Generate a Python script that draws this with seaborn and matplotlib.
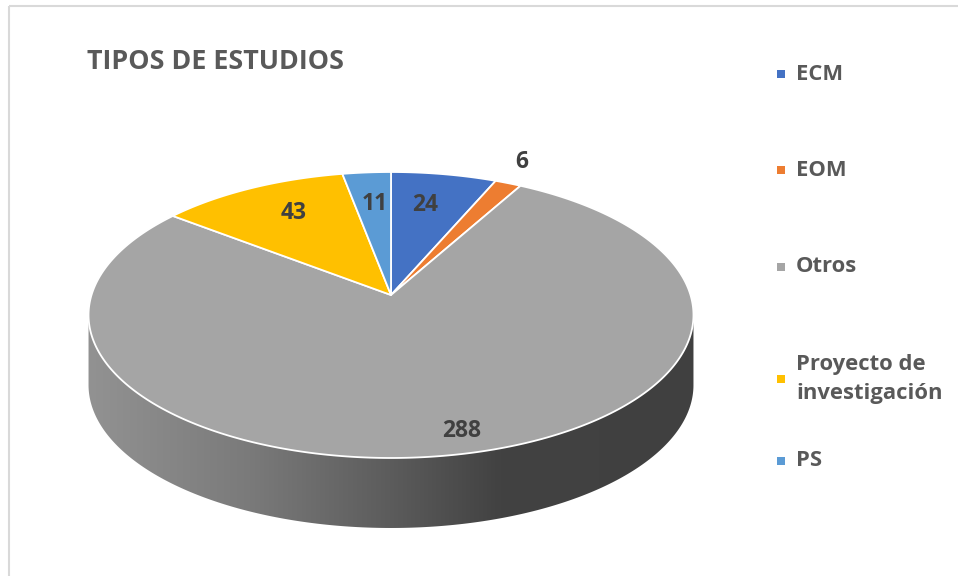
import numpy as np
import matplotlib
matplotlib.use("Agg")
import matplotlib.pyplot as plt
from matplotlib.patches import Polygon, Rectangle
import seaborn as sns

# ---- data ----
categories = ["ECM", "EOM", "Otros", "Proyecto de\ninvestigación", "PS"]
values = [24, 6, 288, 43, 11]
colors = ["#4472C4", "#ED7D31", "#A5A5A5", "#FFC000", "#5B9BD5"]
title = "TIPOS DE ESTUDIOS"

# ---- style / layout ----
sns.set_theme(style="white")
FONT = ["Open Sans", "DejaVu Sans"]
plt.rcParams["font.family"] = FONT

W, H = 958, 576
fig = plt.figure(figsize=(W / 100, H / 100), dpi=100)
ax = fig.add_axes([0, 0, 1, 1])
ax.set_xlim(0, W)
ax.set_ylim(H, 0)
ax.axis("off")

# perspective pie geometry (pixel space)
CX, CY = 391.0, 295.0   # pie centre (apex)
A, B = 299.5, 140.2     # horizontal / vertical scale
K = 0.1398              # perspective factor
DEPTH = 70.0            # wall thickness
label_r = [0.72, 1.2, 0.88, 0.73, 0.72]
label_dtheta = [-1.6, -1.4, -2.0, 2.5, 0.6]


def project(theta_deg, r=1.0):
    t = np.radians(theta_deg)
    u = r * np.sin(t)
    v = r * np.cos(t)
    w = 1 + K * v
    return CX + A * u / w, CY - B * v / w


# chart frame
ax.add_patch(Rectangle((9.5, 5.5), W, H, fill=False, edgecolor="#D9D9D9", lw=1.5, zorder=0))

# slice angles (clockwise from 12 o'clock)
vals = np.array(values, dtype=float)
bounds = np.concatenate([[0], np.cumsum(vals)]) / vals.sum() * 360.0

# front wall (3D side), only the front half is visible
kk = np.sqrt(1 - K ** 2)
th_r = np.degrees(np.arctan2(kk, -K))
th_l = 360 - th_r
th = np.linspace(th_r, th_l, 300)
tx, ty = project(th)
wall_pts = np.concatenate([np.column_stack([tx, ty]),
                           np.column_stack([tx[::-1], ty[::-1] + DEPTH])])
wall = Polygon(wall_pts, closed=True, facecolor="none", edgecolor="none", zorder=1)
ax.add_patch(wall)
gx = np.linspace(80, 700, 400)
gray = np.interp(gx, [89, 250, 390, 500, 700], [0x92, 0x7A, 0x5C, 0x42, 0x40]) / 255.0
img = np.tile(np.stack([gray, gray, gray], axis=-1)[None, :, :], (2, 1, 1))
im = ax.imshow(img, extent=[80, 700, 560, 280], aspect="auto", zorder=1, interpolation="bilinear")
im.set_clip_path(wall)
ax.set_xlim(0, W)
ax.set_ylim(H, 0)

# top face slices
for i, (a0, a1) in enumerate(zip(bounds[:-1], bounds[1:])):
    t = np.linspace(a0, a1, max(4, int((a1 - a0) * 2)))
    px, py = project(t)
    pts = np.vstack([[CX, CY], np.column_stack([px, py])])
    ax.add_patch(Polygon(pts, closed=True, facecolor=colors[i], edgecolor="white",
                         lw=1.3, joinstyle="round", zorder=2))

# data labels
for i, (a0, a1) in enumerate(zip(bounds[:-1], bounds[1:])):
    lx, ly = project((a0 + a1) / 2 + label_dtheta[i], label_r[i])
    ax.text(lx, ly, f"{values[i]}", ha="center", va="center", fontsize=16.5,
            fontweight="bold", color="#404040", zorder=3)

# title
ax.text(87, 62, title, ha="left", va="center", fontsize=19.4, fontweight="bold", color="#595959")

# legend
leg_y = [74, 170, 267, 379, 461]
for i, cat in enumerate(categories):
    ax.add_patch(Rectangle((777, leg_y[i] - 4), 8, 8, facecolor=colors[i], edgecolor="none"))
    ax.text(796, leg_y[i], cat, ha="left", va="center", fontsize=15.8, fontweight="bold",
            color="#595959", linespacing=1.5)

fig.savefig("out.png", dpi=100)
